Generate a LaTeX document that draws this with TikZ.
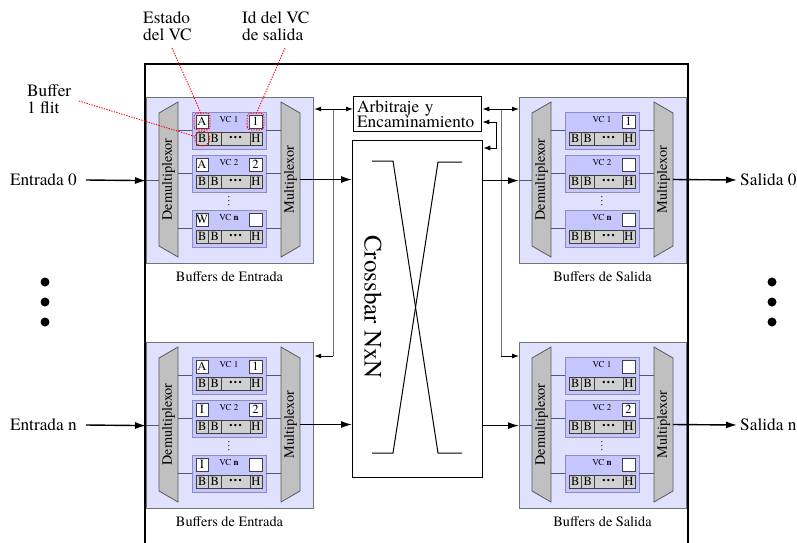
\documentclass[tikz,border=0pt]{standalone}
\usepackage{fontspec}
\setmainfont{texgyretermes-regular.otf}[BoldFont=texgyretermes-bold.otf]
\usetikzlibrary{arrows.meta,calc}
\definecolor{blkfill}{RGB}{224,224,255}
\definecolor{vcfill}{RGB}{198,198,255}
\definecolor{vcedge}{RGB}{140,140,190}
\definecolor{trapfill}{RGB}{192,192,192}
\definecolor{trapedge}{RGB}{90,90,90}
\definecolor{cellfill}{RGB}{208,208,208}
\definecolor{edgegray}{RGB}{115,115,115}
\definecolor{wirecol}{RGB}{85,85,120}
\definecolor{busgray}{RGB}{110,110,110}
\newcommand\bigfnt{\fontsize{17.3}{17}\selectfont}
\newcommand\midfnt{\fontsize{14.3}{16}\selectfont}
\newcommand\cellfnt{\fontsize{12.5}{13}\selectfont}
\newcommand\vcfnt{\fontsize{9}{10}\selectfont}
\newcommand\vcunit[6]{%
  \node[vc] (#1) at (#2,#3) {};
  \node[vclab] (#1-lab) at (#2,#3-10.5) {#6};
  \ifx\relax#4\relax\else\node[wbox,minimum width=12pt] (#1-s) at (#2-27,#3-9) {#4};\fi
  \node[wbox] (#1-v) at (#2+26.5,#3-9) {#5};
  \node[cellbox,minimum width=12.5pt] (#1-b1) at (#2-26.75,#3+8) {B};
  \node[cellbox,minimum width=12.5pt] (#1-b2) at (#2-14.25,#3+8) {B};
  \node[cellbox,minimum width=29pt] (#1-dd) at (#2+6.5,#3+8) {{\fontsize{9}{9}\selectfont\textbullet\hspace{1.5pt}\textbullet\hspace{1.5pt}\textbullet}};
  \node[cellbox,minimum width=12pt] (#1-h) at (#2+27,#3+8) {H};
}
\newcommand\bufblock[9]{%
  \node[blk,anchor=north west] (#1) at (#2,#3) {};
  \node[capt] (#1-cap) at (#2+83.5,#3+180) {#4};
  \filldraw[trap] (#2+13,#3+16) -- (#2+32,#3+5) -- (#2+32,#3+160) -- (#2+13,#3+149) -- cycle;
  \node[trapnode] (#1-dmx) at (#2+22.5,#3+82.5) {\rotatebox{90}{Demultiplexor}};
  \filldraw[trap] (#2+135,#3+5) -- (#2+154,#3+16) -- (#2+154,#3+149) -- (#2+135,#3+160) -- cycle;
  \node[trapnode] (#1-mux) at (#2+144.5,#3+82.5) {\rotatebox{90}{Multiplexor}};
  \vcunit{#1-vc1}{#2+83}{#3+33.5}{#5}{#6}{VC 1}
  \vcunit{#1-vc2}{#2+83}{#3+76.5}{#7}{#8}{VC 2}
  \vcunit{#1-vc3}{#2+83}{#3+131.5}{#9}{}{VC \textbf{n}}
  \node[inner sep=0pt] (#1-vd) at (#2+83,#3+104) {\rotatebox{90}{\fontsize{11}{11}\selectfont .\hspace{1.6pt}.\hspace{1.6pt}.}};
  \foreach \v in {vc1,vc2,vc3}{
    \draw[wireline] (#1-\v.west) -- (#1-\v.west -| #1-dmx.east);
    \draw[wireline] (#1-\v.east) -- (#1-\v.east -| #1-mux.west);
  }
  \draw[wireline] (#1.west) -- (#1.west -| #1-dmx.west);
}
\begin{document}
\begin{tikzpicture}[x=1pt,y=-1pt,
  blk/.style={draw=edgegray,line width=1.2pt,fill=blkfill,minimum width=167pt,minimum height=166pt,inner sep=0pt},
  trap/.style={draw=trapedge,line width=0.8pt,fill=trapfill},
  trapnode/.style={inner sep=0pt,minimum width=19pt,minimum height=155pt,font=\midfnt},
  vc/.style={draw=vcedge,line width=0.9pt,fill=vcfill,minimum width=74pt,minimum height=37pt,inner sep=0pt},
  cellbox/.style={draw=black!75,line width=0.7pt,fill=cellfill,minimum height=13pt,inner sep=0pt,font=\cellfnt},
  wbox/.style={draw=black!75,line width=0.7pt,fill=white,minimum width=13pt,minimum height=13pt,inner sep=0pt,font=\cellfnt},
  vclab/.style={inner sep=0pt,font=\vcfnt},
  capt/.style={inner sep=0pt,font=\midfnt},
  wireline/.style={draw=wirecol,line width=0.9pt},
  lab/.style={inner sep=0pt,font=\bigfnt},
  dataarrow/.style={line width=1.4pt,-{Latex[length=11pt,width=7pt]}},
  ctrlarrow/.style={line width=0.9pt,{Latex[length=7pt,width=5pt]}-{Latex[length=7pt,width=5pt]}},
  ctrlone/.style={line width=0.9pt,-{Latex[length=7pt,width=5pt]}},
  busline/.style={draw=busgray,line width=1pt},
  hl/.style={draw=red,line width=0.9pt,dash pattern=on 1.3pt off 1.3pt},
]
\useasboundingbox (0,0) rectangle (797,542);
\begin{scope}
\clip (0,0) rectangle (797,542);
% buffer blocks
\bufblock{bi0}{146}{97}{Buffers de Entrada}{A}{1}{A}{2}{W}
\bufblock{bin}{146}{342}{Buffers de Entrada}{A}{1}{I}{2}{I}
\bufblock{bo0}{519}{97}{Buffers de Salida}{}{1}{}{}{}
\bufblock{bon}{519}{342}{Buffers de Salida}{}{}{}{2}{}
% arbitration and crossbar
\node[draw,line width=1.3pt,anchor=north west,minimum width=128pt,minimum height=35pt,inner xsep=3.5pt,inner ysep=0pt,text width=121pt,align=left,font=\fontsize{17.3}{15.5}\selectfont] (arb) at (353,96) {Arbitraje y\\Encaminamiento};
\node[draw,line width=1.3pt,anchor=north west,minimum width=130pt,minimum height=337pt,inner sep=0pt] (xbar) at (352,140) {};
\node[rotate=-90,inner sep=0pt,font=\fontsize{25}{25}\selectfont] (xbarlab) at (373,307) {Crossbar NxN};
\draw[line width=1pt] (372,161) -- (393,161) -- (438,453) -- (462,453);
\draw[line width=1pt] (372,453) -- (393,453) -- (438,162) -- (462,162);
% control connections
\coordinate (ya) at (0,109);
\coordinate (yb) at (0,356);
\coordinate (yc) at (0,122);
\coordinate (yd) at (0,148);
\coordinate (busl) at (333,0);
\coordinate (busr) at (501,0);
\coordinate (buss) at (496,0);
\draw[busline] (busl |- ya) -- (busl |- yb);
\draw[busline] (busr |- ya) -- (busr |- yb);
\draw[ctrlarrow] (bi0.east |- ya) -- (arb.west |- ya);
\draw[ctrlone] (busl |- yb) -- (bin.east |- yb);
\draw[ctrlarrow] (arb.east |- ya) -- (bo0.west |- ya);
\draw[ctrlone] (busr |- yb) -- (bon.west |- yb);
\draw[ctrlarrow] (arb.east |- yc) -- (buss |- yc) -- (buss |- yd) -- (xbar.east |- yd);
% io labels
\node[lab,anchor=east,inner xsep=9pt] (in0) at (86,180) {Entrada 0};
\node[lab,anchor=east,inner xsep=9pt] (inn) at (86,425) {Entrada n};
\node[lab,anchor=west,inner xsep=3pt] (out0) at (737,180) {Salida 0};
\node[lab,anchor=west,inner xsep=3pt] (outn) at (737,425) {Salida n};
% data paths
\draw[dataarrow] (in0.east) -- (bi0.west);
\draw[dataarrow] (inn.east) -- (bin.west);
\draw[dataarrow] (bi0-mux.east) -- (bi0-mux.east -| xbar.west);
\draw[dataarrow] (bin-mux.east) -- (bin-mux.east -| xbar.west);
\draw[dataarrow] (xbar.east |- bo0) -- (bo0.west);
\draw[dataarrow] (xbar.east |- bon) -- (bon.west);
\draw[dataarrow] (bo0-mux.east) -- (out0.west);
\draw[dataarrow] (bon-mux.east) -- (outn.west);
% outer router box
\draw[line width=2pt] (145,548) -- (145,64) -- (688,64) -- (688,548);
% ellipsis dots
\fill (45,282) circle (4.5); \fill (45,302) circle (4.5); \fill (45,322) circle (4.5);
\fill (772,282) circle (4.5); \fill (772,302) circle (4.5); \fill (772,322) circle (4.5);
% annotations
\node[lab,align=left,anchor=north west] (est) at (143,11) {Estado\\del VC};
\node[lab,align=left,anchor=north west] (idvc) at (242,11) {Id del VC\\de salida};
\node[lab,align=left,anchor=north west] (buf) at (27,84) {Buffer\\1 flit};
\coordinate (estp) at (172,48);
\coordinate (idp) at (285,48);
\coordinate (bufp) at (79,101);
\draw[hl,rounded corners=3pt] ($(bi0-vc1-s.south west)+(-1.5,1.5)$) rectangle ($(bi0-vc1-s.north east)+(1.5,-1.5)$);
\draw[hl,rounded corners=3pt] ($(bi0-vc1-v.south west)+(-1.5,1.5)$) rectangle ($(bi0-vc1-v.north east)+(1.5,-1.5)$);
\draw[hl] (bi0-vc1-b1) circle (7.5);
\draw[hl] (estp) -- ($(bi0-vc1-s.north)+(-1,-1.5)$);
\draw[hl] (idp) -- ($(bi0-vc1-v.north)+(1,-1.5)$);
\draw[hl] (bufp) -- ($(bi0-vc1-b1)+(-7,-2)$);
\end{scope}
\end{tikzpicture}
\end{document}
